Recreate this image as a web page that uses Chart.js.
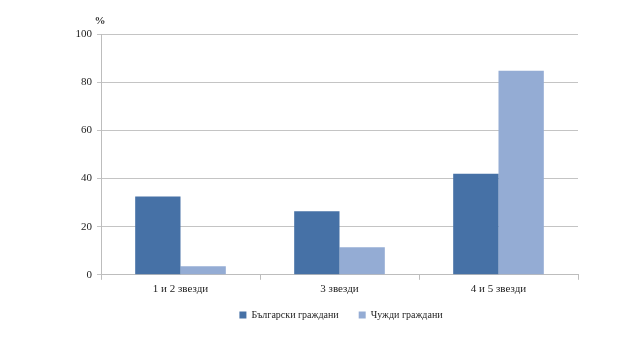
<!DOCTYPE html>
<html>
<head>
<meta charset="utf-8">
<script src="https://cdn.jsdelivr.net/npm/chart.js@4"></script>
<style>
  html, body { margin: 0; padding: 0; background: #fff; }
  #wrap { width: 640px; height: 360px; }
</style>
</head>
<body>
<div id="wrap"><canvas id="graphique" width="640" height="360"></canvas></div>
<script>
var categories = ['1 и 2 звезди', '3 звезди', '4 и 5 звезди'];
var bulgarians = [32.5, 26.4, 42];
var foreigners = [3.6, 11.4, 84.7];
var seriesNames = ['Български граждани', 'Чужди граждани'];

var serif = 'Liberation Serif, Times New Roman, serif';

// "%" над вертикалната ос + легендата малко по-надясно
var percentLabel = {
  id: 'percentLabel',
  afterLayout: function(chart) {
    var lg = chart.legend;
    if (lg) {
      var shift = 341 - (lg.left + lg.right) / 2;
      lg.left += shift;
      lg.right += shift;
      lg.top -= 9;
      lg.bottom -= 9;
    }
  },
  afterDraw: function(chart) {
    var ctx = chart.ctx;
    var y = chart.scales.y;
    ctx.save();
    ctx.font = 'bold 11px ' + serif;
    ctx.fillStyle = '#333';
    ctx.textAlign = 'center';
    ctx.textBaseline = 'bottom';
    ctx.fillText('%', y.right - 1, y.top - 7);
    ctx.restore();
  }
};

var ctx = document.getElementById('graphique');
var barGraph = new Chart(ctx, {
  type: 'bar',
  data: {
    labels: categories,
    datasets: [
      {
        label: seriesNames[0],
        backgroundColor: '#4671a6',
        data: bulgarians
      },
      {
        label: seriesNames[1],
        backgroundColor: '#94acd4',
        data: foreigners
      }
    ]
  },
  options: {
    responsive: false,
    animation: false,
    layout: { padding: { left: 0, right: 62, top: 34, bottom: 21 } },
    datasets: { bar: { barPercentage: 1, categoryPercentage: 0.57 } },
    plugins: {
      legend: {
        position: 'bottom',
        labels: {
          boxWidth: 7,
          boxHeight: 7,
          padding: 20,
          color: '#222',
          font: { family: serif, size: 10 }
        }
      },
      tooltip: { enabled: false }
    },
    scales: {
      x: {
        grid: { drawOnChartArea: false, tickLength: 5, color: '#bdbdbd', offset: true },
        border: { color: '#bdbdbd' },
        ticks: { color: '#222', font: { family: serif, size: 11 }, padding: 3 }
      },
      y: {
        min: 0,
        max: 100,
        afterFit: function(scale) { scale.width = 101; },
        grid: { color: '#c4c4c4', tickLength: 4 },
        border: { color: '#bdbdbd' },
        ticks: { stepSize: 20, color: '#222', font: { family: serif, size: 11 }, padding: 5 }
      }
    }
  },
  plugins: [percentLabel]
});
</script>
</body>
</html>
